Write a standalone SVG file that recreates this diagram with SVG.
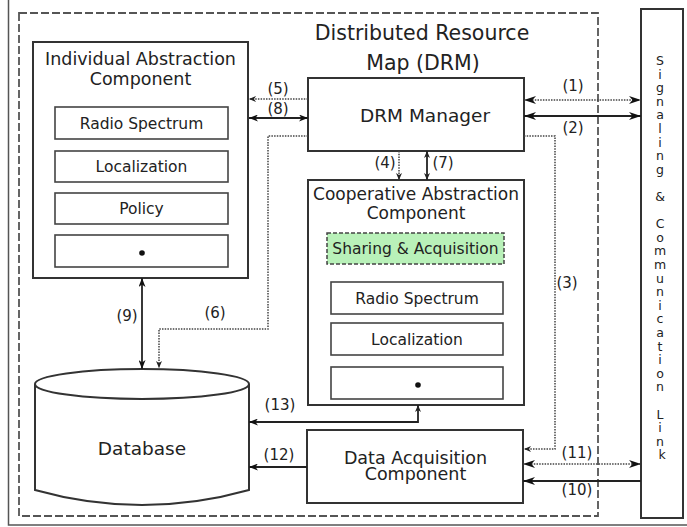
<svg xmlns="http://www.w3.org/2000/svg" width="687" height="527" viewBox="0 0 687 527">
  <style>
    text { font-family: "DejaVu Sans", "Liberation Sans", sans-serif; fill: #222; text-anchor: middle; }
    .box { fill: #fff; stroke: #333; stroke-width: 2; }
    .sub { fill: #fff; stroke: #444; stroke-width: 1.6; }
    .solid { fill: none; stroke: #222; stroke-width: 1.8; }
    .dot { fill: none; stroke: #444; stroke-width: 1.5; stroke-dasharray: 1.5 1.2; }
    .lbl { font-size: 15px; }
    .title { font-size: 20.5px; }
    .head { font-size: 17.5px; }
    .item { font-size: 15.5px; }
    .vert { font-size: 12.5px; }
  </style>
  <defs>
    <marker id="arrL" viewBox="0 0 12 8" refX="12" refY="4" markerWidth="12" markerHeight="8" markerUnits="userSpaceOnUse" orient="auto-start-reverse">
      <path d="M0,0 L12,4 L0,8 L3.5,4 z" fill="#111"/>
    </marker>
    <marker id="arrM" viewBox="0 0 9 7" refX="9" refY="3.5" markerWidth="9" markerHeight="7" markerUnits="userSpaceOnUse" orient="auto-start-reverse">
      <path d="M0,0 L9,3.5 L0,7 L2.5,3.5 z" fill="#111"/>
    </marker>
    <marker id="arrS" viewBox="0 0 7 6" refX="7" refY="3" markerWidth="7" markerHeight="6" markerUnits="userSpaceOnUse" orient="auto-start-reverse">
      <path d="M0,0 L7,3 L0,6 L2,3 z" fill="#222"/>
    </marker>
  </defs>

  <rect width="687" height="527" fill="#fff"/>
  <!-- outer frame -->
  <path d="M8.5,0 V525 H687" fill="none" stroke="#555" stroke-width="1.5"/>

  <!-- DRM container -->
  <g id="drm">
    <rect x="19" y="13" width="579" height="503" fill="none" stroke="#555" stroke-width="1.8" stroke-dasharray="8 3"/>
    <text class="title" x="422" y="40">Distributed Resource</text>
    <text class="title" x="423" y="70">Map (DRM)</text>
  </g>

  <!-- Individual Abstraction Component -->
  <g id="iac">
    <rect class="box" x="33" y="42" width="215" height="236"/>
    <text class="head" x="140.5" y="65">Individual Abstraction</text>
    <text class="head" x="140.5" y="85">Component</text>
    <rect class="sub" x="55" y="107" width="173" height="32"/>
    <text class="item" x="141.5" y="128.5">Radio Spectrum</text>
    <rect class="sub" x="55" y="151" width="173" height="31"/>
    <text class="item" x="141.5" y="172">Localization</text>
    <rect class="sub" x="55" y="193" width="173" height="31"/>
    <text class="item" x="141.5" y="214">Policy</text>
    <rect class="sub" x="55" y="235" width="173" height="32"/>
    <circle cx="142" cy="253" r="2.8" fill="#111"/>
  </g>

  <!-- DRM Manager -->
  <g id="manager">
    <rect class="box" x="308" y="78" width="216" height="73"/>
    <text x="425" y="122" font-size="18.5">DRM Manager</text>
  </g>

  <!-- Cooperative Abstraction Component -->
  <g id="cac">
    <rect class="box" x="308" y="180" width="216" height="225"/>
    <text x="416" y="200" font-size="17">Cooperative Abstraction</text>
    <text x="416" y="219" font-size="17">Component</text>
    <rect x="327" y="233" width="177" height="31" fill="#b9f1b9" stroke="#444" stroke-width="1.5" stroke-dasharray="4 2"/>
    <text x="415.5" y="254" font-size="15.5">Sharing &amp; Acquisition</text>
    <rect class="sub" x="331" y="282" width="172" height="32"/>
    <text class="item" x="417" y="303.5">Radio Spectrum</text>
    <rect class="sub" x="331" y="323" width="172" height="32"/>
    <text class="item" x="417" y="344.5">Localization</text>
    <rect class="sub" x="331" y="367" width="172" height="32"/>
    <circle cx="418" cy="385" r="2.8" fill="#111"/>
  </g>

  <!-- Database -->
  <g id="database">
    <path d="M35,384 V490 Q142,520 249,490 V384" fill="#fff" stroke="#333" stroke-width="2"/>
    <ellipse cx="142" cy="384" rx="107" ry="15" fill="#fff" stroke="#333" stroke-width="2"/>
    <text x="142" y="455" font-size="18.5">Database</text>
  </g>

  <!-- Data Acquisition Component -->
  <g id="dac">
    <rect class="box" x="307" y="430" width="216" height="73"/>
    <text x="415.5" y="464" font-size="17.5">Data Acquisition</text>
    <text x="415.5" y="480" font-size="17.5">Component</text>
  </g>

  <!-- Signaling & Communication Link -->
  <g id="link">
    <rect class="box" x="641" y="9" width="42" height="509"/>
    <text class="vert">
      <tspan x="662" y="65">S</tspan>
      <tspan x="662" y="78.6">i</tspan>
      <tspan x="662" y="92.2">g</tspan>
      <tspan x="662" y="105.8">n</tspan>
      <tspan x="662" y="119.4">a</tspan>
      <tspan x="662" y="133">l</tspan>
      <tspan x="662" y="146.6">i</tspan>
      <tspan x="662" y="160.2">n</tspan>
      <tspan x="662" y="173.8">g</tspan>
      <tspan x="662" y="201">&amp;</tspan>
      <tspan x="662" y="228.2">C</tspan>
      <tspan x="662" y="241.8">o</tspan>
      <tspan x="662" y="255.4">m</tspan>
      <tspan x="662" y="269">m</tspan>
      <tspan x="662" y="282.6">u</tspan>
      <tspan x="662" y="296.2">n</tspan>
      <tspan x="662" y="309.8">i</tspan>
      <tspan x="662" y="323.4">c</tspan>
      <tspan x="662" y="337">a</tspan>
      <tspan x="662" y="350.6">t</tspan>
      <tspan x="662" y="364.2">i</tspan>
      <tspan x="662" y="377.8">o</tspan>
      <tspan x="662" y="391.4">n</tspan>
      <tspan x="662" y="418.6">L</tspan>
      <tspan x="662" y="432.2">i</tspan>
      <tspan x="662" y="445.8">n</tspan>
      <tspan x="662" y="459.4">k</tspan>
    </text>
  </g>

  <!-- connectors -->
  <g id="connectors">
    <line class="dot" x1="524" y1="100" x2="641" y2="100" marker-start="url(#arrL)" marker-end="url(#arrL)"/>
    <line class="solid" x1="524" y1="116" x2="641" y2="116" marker-start="url(#arrL)" marker-end="url(#arrL)"/>
    <path class="dot" d="M524,136 H555 V449 H524" marker-end="url(#arrS)"/>
    <line class="dot" x1="399" y1="151" x2="399" y2="180" marker-end="url(#arrS)"/>
    <line class="dot" x1="308" y1="99" x2="249" y2="99" marker-end="url(#arrS)"/>
    <path class="dot" d="M308,136 H268 V329 H159 V368" marker-end="url(#arrS)"/>
    <line class="solid" x1="427" y1="151" x2="427" y2="180" marker-start="url(#arrS)" marker-end="url(#arrS)"/>
    <line class="solid" x1="249" y1="118" x2="308" y2="118" marker-start="url(#arrM)" marker-end="url(#arrM)"/>
    <line class="solid" x1="142" y1="278" x2="142" y2="369" marker-start="url(#arrM)" marker-end="url(#arrM)"/>
    <line class="solid" x1="641" y1="481" x2="523" y2="481" marker-end="url(#arrL)"/>
    <line class="dot" x1="523" y1="464" x2="641" y2="464" marker-start="url(#arrL)" marker-end="url(#arrL)"/>
    <line class="solid" x1="307" y1="467" x2="249" y2="467" marker-end="url(#arrM)"/>
    <path class="solid" d="M418,405 V422 H249" stroke-width="1.5" marker-start="url(#arrS)" marker-end="url(#arrM)"/>

    <text class="lbl" x="573" y="91">(1)</text>
    <text class="lbl" x="573" y="133">(2)</text>
    <text class="lbl" x="567" y="288">(3)</text>
    <text class="lbl" x="385" y="168">(4)</text>
    <text class="lbl" x="278" y="94">(5)</text>
    <text class="lbl" x="215" y="318">(6)</text>
    <text class="lbl" x="443" y="168">(7)</text>
    <text class="lbl" x="278" y="114">(8)</text>
    <text class="lbl" x="127" y="321">(9)</text>
    <text class="lbl" x="577" y="495">(10)</text>
    <text class="lbl" x="577" y="458">(11)</text>
    <text class="lbl" x="279" y="460">(12)</text>
    <text class="lbl" x="280" y="410">(13)</text>
  </g>
</svg>
